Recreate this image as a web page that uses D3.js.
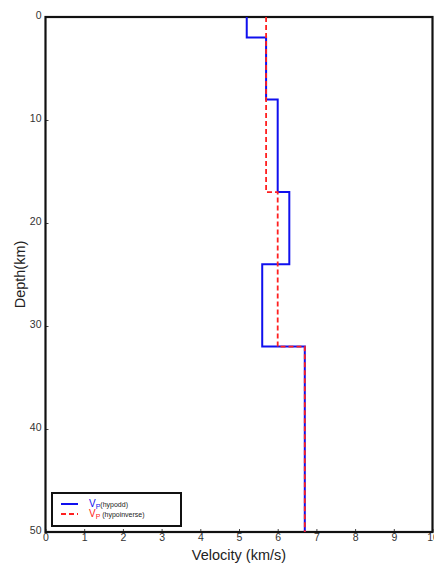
<!DOCTYPE html>
<html><head><meta charset="utf-8">
<script src="https://cdn.jsdelivr.net/npm/d3@7"></script>
<style>body{margin:0;background:#fff}svg{display:block;font-family:"Liberation Sans",Arial,sans-serif}</style>
</head><body><div id="c"></div>
<script>
// layer tops (km) and velocities (km/s)
const hypoddDepths = [0, 2, 8, 17, 24, 32, 50];
const hypoddVp     = [5.2, 5.7, 6.0, 6.3, 5.6, 6.7];
const hypoinvDepths = [0, 17, 32, 50];
const hypoinvVp     = [5.7, 6.0, 6.7];
const xTicks = [0,1,2,3,4,5,6,7,8,9,10];
const yTicks = [0,10,20,30,40,50];

const W = 434, H = 563;
const svg = d3.select("#c").append("svg").attr("width", W).attr("height", H);
const x = d3.scaleLinear().domain([0, 10]).range([45.5, 432.5]);
const y = d3.scaleLinear().domain([0, 50]).range([17, 532]);

function stepPts(depths, v) {
  const pts = [];
  v.forEach((val, i) => { pts.push([val, depths[i]]); pts.push([val, depths[i+1]]); });
  return pts;
}
const line = d3.line().x(d => x(d[0])).y(d => y(d[1]));

// axes
const xa = svg.append("g").attr("transform", `translate(0,${y(50)})`)
  .call(d3.axisBottom(x).tickValues(xTicks).tickFormat(d3.format("d")).tickSize(-3).tickPadding(1));
const ya = svg.append("g").attr("transform", `translate(${x(0)},0)`)
  .call(d3.axisLeft(y).tickValues(yTicks).tickFormat(d3.format("d")).tickSize(-3).tickPadding(4));
[xa, ya].forEach(g => {
  g.select(".domain").remove();
  g.selectAll("line").attr("stroke", "#444");
  g.selectAll("text").attr("fill", "#333").style("font-size", "10.5px");
});
xa.selectAll("text").attr("y", 2).attr("dy", "0.71em");
ya.selectAll("text").attr("dy", "0.1em");

// frame
svg.append("rect").attr("x", x(0)).attr("y", y(0)).attr("width", x(10) - x(0)).attr("height", y(50) - y(0))
  .attr("fill", "none").attr("stroke", "#111").attr("stroke-width", 2.2);

// data
svg.append("path").datum(stepPts(hypoddDepths, hypoddVp)).attr("d", line)
  .attr("fill", "none").attr("stroke", "#1010ee").attr("stroke-width", 2);
svg.append("path").datum(stepPts(hypoinvDepths, hypoinvVp)).attr("d", line)
  .attr("fill", "none").attr("stroke", "#ff2020").attr("stroke-width", 1.8).attr("stroke-dasharray", "5,3");

// axis labels
svg.append("text").attr("x", x(5)).attr("y", 560).attr("text-anchor", "middle")
  .style("font-size", "14.5px").attr("fill", "#222").text("Velocity (km/s)");
svg.append("text").attr("transform", `translate(25,${y(25)}) rotate(-90)`).attr("text-anchor", "middle")
  .style("font-size", "14.5px").attr("fill", "#222").text("Depth(km)");

// legend
const lg = svg.append("g");
lg.append("rect").attr("x", 52).attr("y", 493).attr("width", 129).attr("height", 33)
  .attr("fill", "#fff").attr("stroke", "#111").attr("stroke-width", 2);
const items = [
  {name: "(hypodd)", color: "#1010ee", dash: null, w: 2},
  {name: " (hypoinverse)", color: "#ff2020", dash: "5,3", w: 1.8}
];
items.forEach((it, i) => {
  const yy = 504 + i * 10;
  lg.append("line").attr("x1", 61).attr("x2", 78).attr("y1", yy).attr("y2", yy)
    .attr("stroke", it.color).attr("stroke-width", it.w).attr("stroke-dasharray", it.dash);
  const t = lg.append("text").attr("x", 89).attr("y", yy + 3).style("font-size", "9px");
  t.append("tspan").attr("fill", it.color).style("font-size", "10px").text("V");
  t.append("tspan").attr("fill", it.color).style("font-size", "7px").attr("dy", 2).text("P");
  t.append("tspan").attr("fill", "#222").style("font-size", "7px").attr("dy", -2).text(it.name);
});
</script></body></html>
